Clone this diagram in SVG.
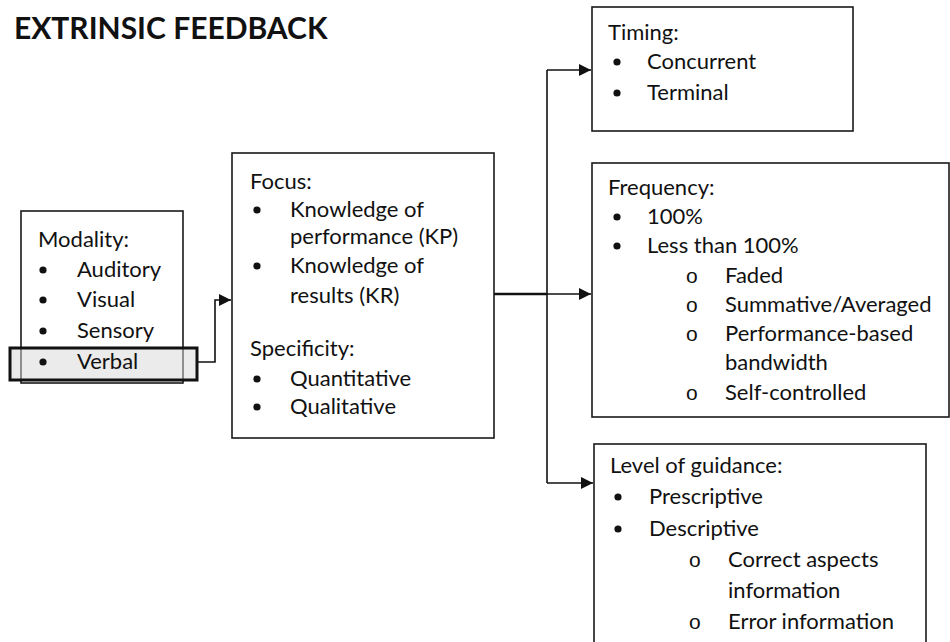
<svg xmlns="http://www.w3.org/2000/svg" width="950" height="642" viewBox="0 0 950 642">
<style>
.box{fill:#fff;stroke:#1a1a1a;stroke-width:1.6}
.t{font-family:Lato,"Open Sans",sans-serif;font-size:22px;fill:#111}
.dot{fill:#111}
.o{font-family:"Liberation Sans",sans-serif;font-size:21px;fill:#111}
.title{font-family:Lato,"Open Sans",sans-serif;font-size:30px;font-weight:bold;fill:#111}
.ln{fill:none;stroke:#111;stroke-width:1.6}
</style>
<defs>
<marker id="ah2" viewBox="0 0 10 10" refX="10" refY="5" markerWidth="13" markerHeight="12" orient="auto" markerUnits="userSpaceOnUse">
<path d="M0,0 L10,5 L0,10 z" fill="#111"/>
</marker>
</defs>
<rect width="950" height="642" fill="#fff"/>
<text class="title" x="14" y="39">EXTRINSIC FEEDBACK</text>

<g id="connectors">
<path class="ln" d="M197,362 H215 V300 H231" marker-end="url(#ah2)"/>
<path d="M494,294 H547" fill="none" stroke="#111" stroke-width="2.6"/>
<path class="ln" d="M547,294 H591" marker-end="url(#ah2)"/>
<path class="ln" d="M547,70 V483"/>
<path class="ln" d="M547,70 H591" marker-end="url(#ah2)"/>
<path class="ln" d="M547,483 H593" marker-end="url(#ah2)"/>
</g>

<g id="modality">
<rect class="box" x="21" y="211" width="162" height="172"/>
<text class="t" x="38" y="247">Modality:</text>
<circle class="dot" cx="43" cy="270" r="3.6"/><text class="t" x="77" y="277">Auditory</text>
<circle class="dot" cx="43" cy="300" r="3.6"/><text class="t" x="77" y="307">Visual</text>
<circle class="dot" cx="43" cy="331" r="3.6"/><text class="t" x="77" y="338">Sensory</text>
</g>
<g id="verbal">
<rect x="10" y="348" width="187" height="32" fill="#d8d8d8" fill-opacity="0.5" stroke="#111" stroke-width="3"/>
<circle class="dot" cx="43" cy="362" r="3.6"/><text class="t" x="77" y="369">Verbal</text>
</g>

<g id="focus">
<rect class="box" x="232" y="153" width="262" height="285"/>
<text class="t" x="250" y="189">Focus:</text>
<circle class="dot" cx="257" cy="210" r="3.6"/><text class="t" x="290" y="217">Knowledge of</text>
<text class="t" x="290" y="244">performance (KP)</text>
<circle class="dot" cx="257" cy="266" r="3.6"/><text class="t" x="290" y="273">Knowledge of</text>
<text class="t" x="290" y="303">results (KR)</text>
<text class="t" x="250" y="356">Specificity:</text>
<circle class="dot" cx="257" cy="379" r="3.6"/><text class="t" x="290" y="386">Quantitative</text>
<circle class="dot" cx="257" cy="407" r="3.6"/><text class="t" x="290" y="414">Qualitative</text>
</g>

<g id="timing">
<rect class="box" x="592" y="7" width="261" height="124"/>
<text class="t" x="608" y="40">Timing:</text>
<circle class="dot" cx="617" cy="62" r="3.6"/><text class="t" x="647" y="69">Concurrent</text>
<circle class="dot" cx="617" cy="93" r="3.6"/><text class="t" x="647" y="100">Terminal</text>
</g>

<g id="frequency">
<rect class="box" x="592" y="163" width="357" height="254"/>
<text class="t" x="608" y="195">Frequency:</text>
<circle class="dot" cx="617" cy="217" r="3.6"/><text class="t" x="647" y="224">100%</text>
<circle class="dot" cx="617" cy="246" r="3.6"/><text class="t" x="647" y="253">Less than 100%</text>
<text class="o" x="686" y="283">o</text><text class="t" x="725" y="283">Faded</text>
<text class="o" x="686" y="312">o</text><text class="t" x="725" y="312">Summative/Averaged</text>
<text class="o" x="686" y="341">o</text><text class="t" x="725" y="341">Performance-based</text>
<text class="t" x="725" y="370">bandwidth</text>
<text class="o" x="686" y="400">o</text><text class="t" x="725" y="400">Self-controlled</text>
</g>

<g id="guidance">
<rect class="box" x="594" y="444" width="332" height="210"/>
<text class="t" x="610" y="473">Level of guidance:</text>
<circle class="dot" cx="618" cy="497" r="3.6"/><text class="t" x="649" y="504">Prescriptive</text>
<circle class="dot" cx="618" cy="529" r="3.6"/><text class="t" x="649" y="536">Descriptive</text>
<text class="o" x="689" y="567">o</text><text class="t" x="728" y="567">Correct aspects</text>
<text class="t" x="728" y="598">information</text>
<text class="o" x="689" y="629">o</text><text class="t" x="728" y="629">Error information</text>
</g>
</svg>
